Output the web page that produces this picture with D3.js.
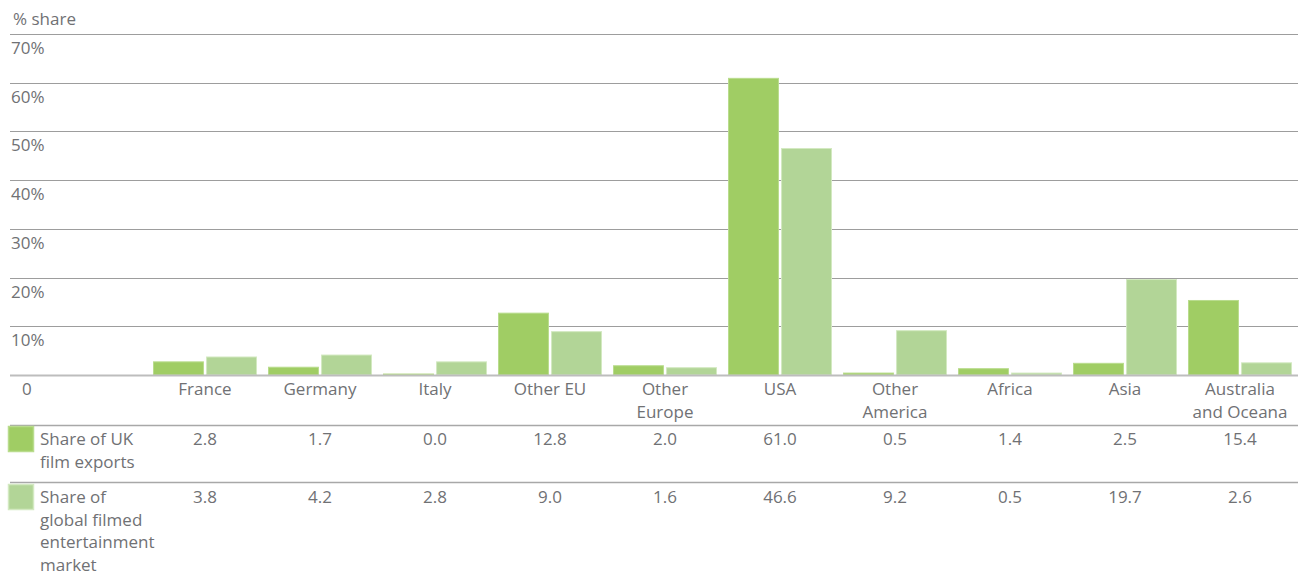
<!DOCTYPE html>
<html><head><meta charset="utf-8">
<script src="https://cdn.jsdelivr.net/npm/d3@7/dist/d3.min.js"></script>
<style>
body{margin:0;background:#fff;}
svg text{font-family:"Open Sans",sans-serif;fill:#707174;font-size:17px;}
</style></head>
<body><svg id="c" width="1306" height="575"></svg>
<script>
const categories = [["France"],["Germany"],["Italy"],["Other EU"],["Other","Europe"],["USA"],["Other","America"],["Africa"],["Asia"],["Australia","and Oceana"]];
const ukExports = [2.8,1.7,0.0,12.8,2.0,61.0,0.5,1.4,2.5,15.4];
const globalMarket = [3.8,4.2,2.8,9.0,1.6,46.6,9.2,0.5,19.7,2.6];
const yTicks = [0,10,20,30,40,50,60,70];
const seriesNames = [["Share of UK","film exports"],["Share of","global filmed","entertainment","market"]];
const colors = ["#a0cd64","#b2d597"];
const strokes = ["#b9dc8d","#d3e9c1"];

const svg = d3.select("#c");
const y = d3.scaleLinear().domain([0,70]).range([375,34]);
const x = d3.scaleBand().domain(d3.range(categories.length)).range([153,1303]).paddingInner(0).paddingOuter(0);
const x1 = d3.scaleBand().domain([0,1]).range([0,104]).paddingInner(0.04);

// grid lines
svg.append("g").selectAll("line").data(yTicks.filter(d=>d>0)).join("line")
  .attr("x1",10).attr("x2",1298).attr("y1",d=>Math.round(y(d))+0.5).attr("y2",d=>Math.round(y(d))+0.5)
  .attr("stroke","#9d9d9d").attr("stroke-width",1);
svg.append("g").selectAll("text").data(yTicks).join("text")
  .attr("x",d=>d===0?22:11).attr("y",d=>y(d)+20)
  .text(d=>d===0?"0":d+"%");
svg.append("text").attr("x",13).attr("y",25).text("% share");

// bars
const series=[ukExports,globalMarket];
series.forEach((vals,si)=>{
  svg.append("g").selectAll("rect").data(vals).join("rect")
    .attr("x",(d,i)=>x(i)+x1(si)+0.5)
    .attr("width",x1.bandwidth()-1)
    .attr("y",d=>Math.min(y(d),y(0)-1.5)+0.5)
    .attr("height",d=>Math.max(1,y(0)-y(d)-0.5))
    .attr("fill",colors[si]).attr("stroke",strokes[si]).attr("stroke-width",1);
});
// baseline
svg.append("line").attr("x1",10).attr("x2",1298).attr("y1",y(0)+0.5).attr("y2",y(0)+0.5)
  .attr("stroke","#bdbdbd").attr("stroke-width",2);

// category labels
const cg = svg.append("g");
categories.forEach((c,i)=>{
  const t=cg.append("text").attr("text-anchor","middle").attr("x",x(i)+52).attr("y",395);
  c.forEach((line,j)=>t.append("tspan").attr("x",x(i)+52).attr("dy",j?23:0).text(line));
});
// table lines
[425.5,482.5].forEach(yy=>svg.append("line").attr("x1",10).attr("x2",1298).attr("y1",yy).attr("y2",yy).attr("stroke","#a8a8a8").attr("stroke-width",1.5));

// legend + values
const rowY=[445,503];
series.forEach((vals,si)=>{
  svg.append("rect").attr("x",8.5).attr("y",rowY[si]-18.5).attr("width",25).attr("height",25)
    .attr("fill",colors[si]).attr("stroke",strokes[si]).attr("stroke-width",1.5);
  const t=svg.append("text").attr("x",40).attr("y",rowY[si]);
  seriesNames[si].forEach((l,j)=>t.append("tspan").attr("x",40).attr("dy",j?22.5:0).text(l));
  svg.append("g").selectAll("text").data(vals).join("text")
    .attr("text-anchor","middle").attr("x",(d,i)=>x(i)+52).attr("y",rowY[si])
    .text(d=>d.toFixed(1));
});
</script></body></html>
